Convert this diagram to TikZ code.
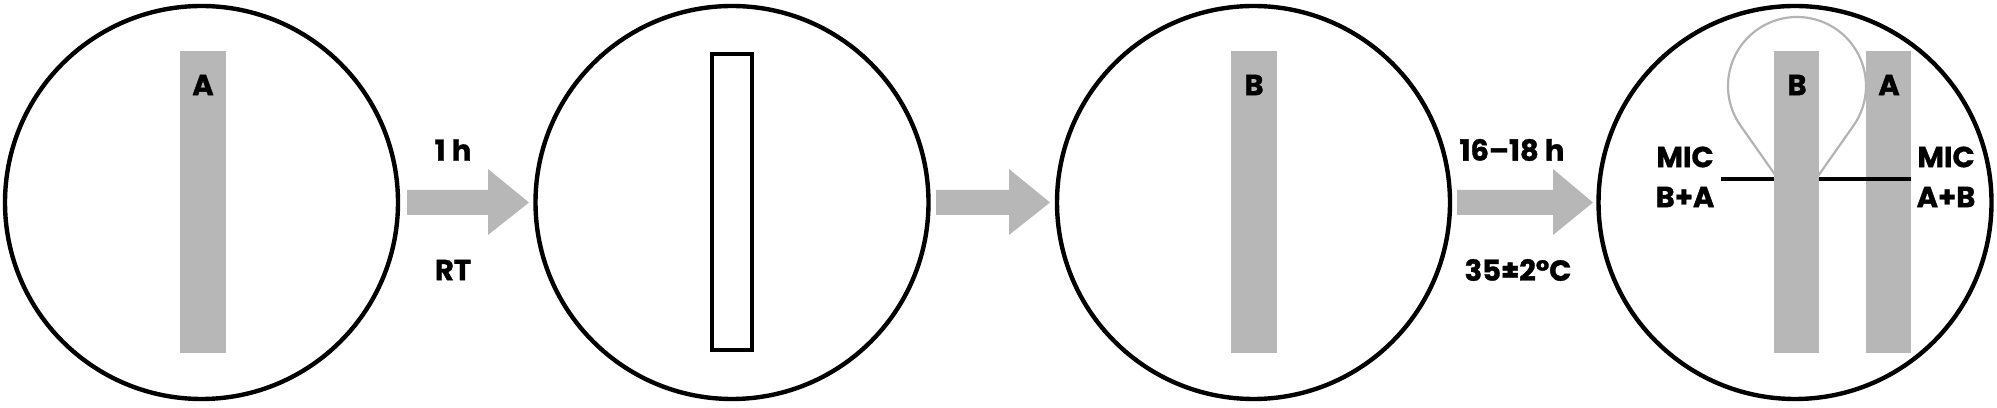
\documentclass[tikz,border=0pt]{standalone}
\usepackage{fontspec}
\setmainfont{Poppins}[BoldFont={* Bold}, BoldFeatures={FakeBold=1.2}]
\usetikzlibrary{calc}
\definecolor{stripgray}{HTML}{B7B7B7}
\definecolor{loopgray}{HTML}{B3B3B3}
\tikzset{
  dish/.style={circle, draw=black, line width=2.2pt, minimum size=196.5pt, inner sep=0pt},
  stripfill/.style={fill=stripgray, draw=none},
  blockarrow/.style={fill=stripgray, draw=none},
  lbl/.style={font=\fontsize{14.5}{16}\selectfont\bfseries, inner sep=0pt, align=center},
}
\begin{document}
\begin{tikzpicture}[x=0.5pt, y=0.5pt]
\useasboundingbox (0,0) rectangle (1997,407);
% dishes
\node[dish] (c1) at (201.5,204.5) {};
\node[dish] (c2) at (732,204.5) {};
\node[dish] (c3) at (1253.5,204.5) {};
\node[dish] (c4) at (1795,204.5) {};
% dish 1: strip A
\fill[stripfill] (180,54) rectangle (226,356);
\node[lbl] (la1) at (203,322) {A};
% dish 2: empty strip outline
\draw[line width=2.1pt] (712,57) rectangle (752,353);
% dish 3: strip B
\fill[stripfill] (1231,54) rectangle (1277,356);
\node[lbl] (lb3) at (1254,322) {B};
% dish 4: loop, strips, MIC line
\coordinate (lc) at (1797,321);
\coordinate (lp) at (1797,201);
\draw[loopgray, line width=1.1pt] (lp) -- ($(lc)+(215:69)$) arc[start angle=215, end angle=-35, radius=69] -- cycle;
\fill[stripfill] (1866,54) rectangle (1911,356);
\coordinate (mL) at (1721,228);
\coordinate (mR) at (1911,228);
\draw[line width=2.1pt] (mL) -- (mR);
\fill[stripfill] (1774,54) rectangle (1819,356);
\node[lbl] (lb4) at (1797,322) {B};
\node[lbl] (la4) at (1889,322) {A};
\node[lbl] (mic1) at (1685,250) {MIC};
\node[lbl] (ba) at (1685,210) {B+A};
\node[lbl] (mic2) at (1946,250) {MIC};
\node[lbl] (ab) at (1946,210) {A+B};
% block arrows
\fill[blockarrow] (407,192) -- (488,192) -- (488,172) -- (529,204.5) -- (488,238) -- (488,217) -- (407,217) -- cycle;
\fill[blockarrow] (936,192) -- (1009,192) -- (1009,172) -- (1050,204.5) -- (1009,238) -- (1009,217) -- (936,217) -- cycle;
\fill[blockarrow] (1457,192) -- (1553,192) -- (1553,172) -- (1593,204.5) -- (1553,238) -- (1553,217) -- (1457,217) -- cycle;
% arrow labels
\node[lbl] (t1) at (453,257) {1 h};
\node[lbl] (t2) at (453,137) {RT};
\node[lbl] (t3) at (1512,257) {16–18 h};
\node[lbl] (t4) at (1518,137) {35±2°C};
\end{tikzpicture}
\end{document}
